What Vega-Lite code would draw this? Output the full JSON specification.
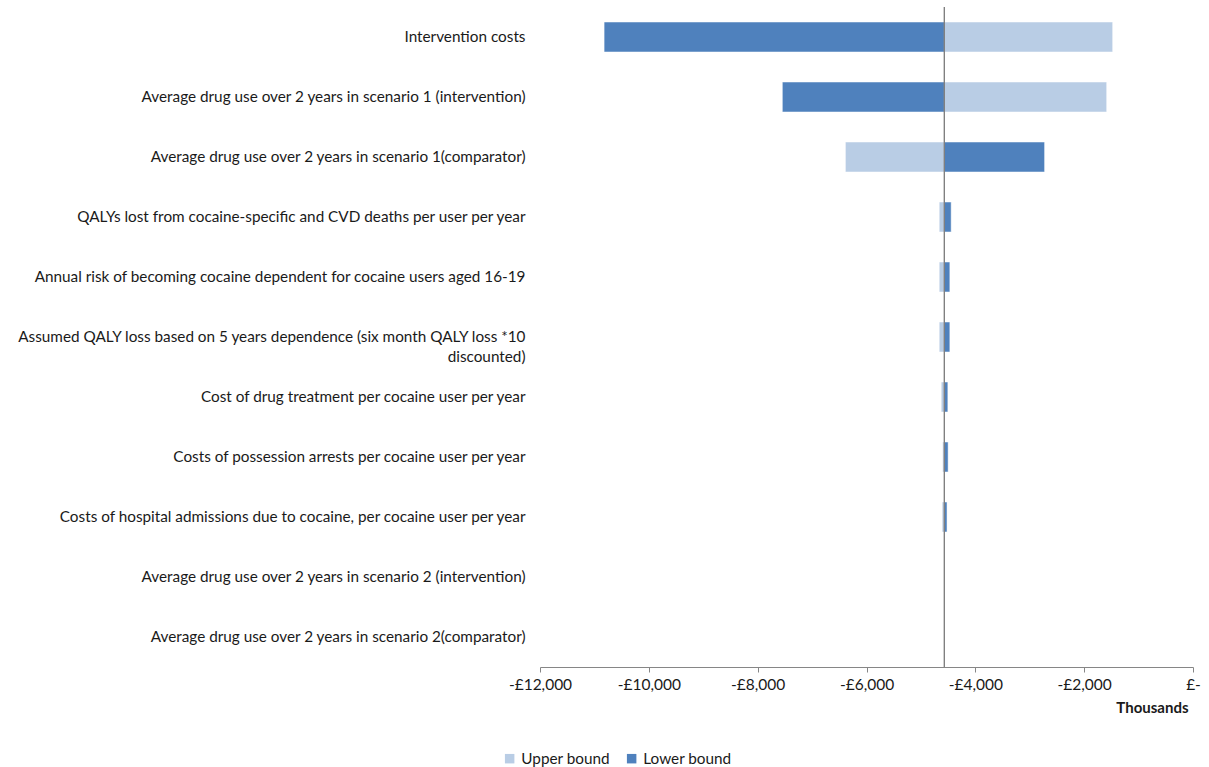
{
  "$schema": "https://vega.github.io/schema/vega-lite/v6.json",
  "autosize": {"type": "none"},
  "width": 653,
  "height": 660,
  "padding": {"left": 540, "top": 7, "right": 16, "bottom": 100},
  "background": "white",
  "config": {
    "view": {"stroke": null},
    "font": "Lato",
    "axis": {"labelFont": "Lato", "titleFont": "Lato", "labelColor": "#1a1a1a", "titleColor": "#1a1a1a"},
    "legend": {"labelFont": "Lato", "labelColor": "#1a1a1a"}
  },
  "data": {
    "values": [
      {"variable": "Intervention costs", "bound": "Lower bound", "value": -10822},
      {"variable": "Intervention costs", "bound": "Upper bound", "value": -1476},
      {"variable": "Average drug use over 2 years in scenario 1 (intervention)", "bound": "Lower bound", "value": -7547},
      {"variable": "Average drug use over 2 years in scenario 1 (intervention)", "bound": "Upper bound", "value": -1586},
      {"variable": "Average drug use over 2 years in scenario 1(comparator)", "bound": "Upper bound", "value": -6388},
      {"variable": "Average drug use over 2 years in scenario 1(comparator)", "bound": "Lower bound", "value": -2727},
      {"variable": "QALYs lost from cocaine-specific and CVD deaths per user per year", "bound": "Upper bound", "value": -4664},
      {"variable": "QALYs lost from cocaine-specific and CVD deaths per user per year", "bound": "Lower bound", "value": -4444},
      {"variable": "Annual risk of becoming cocaine dependent for cocaine users aged 16-19", "bound": "Upper bound", "value": -4664},
      {"variable": "Annual risk of becoming cocaine dependent for cocaine users aged 16-19", "bound": "Lower bound", "value": -4468},
      {"variable": "Assumed QALY loss based on 5 years dependence (six month QALY loss *10|discounted)", "bound": "Upper bound", "value": -4664},
      {"variable": "Assumed QALY loss based on 5 years dependence (six month QALY loss *10|discounted)", "bound": "Lower bound", "value": -4468},
      {"variable": "Cost of drug treatment per cocaine user per year", "bound": "Upper bound", "value": -4627},
      {"variable": "Cost of drug treatment per cocaine user per year", "bound": "Lower bound", "value": -4505},
      {"variable": "Costs of possession arrests per cocaine user per year", "bound": "Upper bound", "value": -4600},
      {"variable": "Costs of possession arrests per cocaine user per year", "bound": "Lower bound", "value": -4500},
      {"variable": "Costs of hospital admissions due to cocaine, per cocaine user per year", "bound": "Upper bound", "value": -4610},
      {"variable": "Costs of hospital admissions due to cocaine, per cocaine user per year", "bound": "Lower bound", "value": -4520}
    ]
  },
  "layer": [
    {
      "mark": {"type": "bar", "stroke": "white", "strokeWidth": 0.5},
      "encoding": {
        "y": {
          "field": "variable",
          "type": "nominal",
          "scale": {
            "domain": [
              "Intervention costs",
              "Average drug use over 2 years in scenario 1 (intervention)",
              "Average drug use over 2 years in scenario 1(comparator)",
              "QALYs lost from cocaine-specific and CVD deaths per user per year",
              "Annual risk of becoming cocaine dependent for cocaine users aged 16-19",
              "Assumed QALY loss based on 5 years dependence (six month QALY loss *10|discounted)",
              "Cost of drug treatment per cocaine user per year",
              "Costs of possession arrests per cocaine user per year",
              "Costs of hospital admissions due to cocaine, per cocaine user per year",
              "Average drug use over 2 years in scenario 2 (intervention)",
              "Average drug use over 2 years  in scenario 2(comparator)"
            ],
            "paddingInner": 0.5,
            "paddingOuter": 0.25
          },
          "axis": {
            "title": null,
            "domain": false,
            "ticks": false,
            "labelPadding": 15,
            "labelLimit": 700,
            "labelFontSize": 15.3,
            "labelLineHeight": 20,
            "labelExpr": "split(datum.label, '|')"
          }
        },
        "x": {
          "field": "value",
          "type": "quantitative",
          "scale": {"domain": [-12000, 0], "nice": false, "zero": false},
          "axis": {
            "title": "Thousands",
            "titleAnchor": "end",
            "titleFontWeight": "bold",
            "titleFontSize": 15,
            "titlePadding": 8,
            "titleX": 648,
            "values": [-12000, -10000, -8000, -6000, -4000, -2000, 0],
            "labelExpr": "datum.value == 0 ? '£-' : '-£' + format(abs(datum.value), ',')",
            "labelFontSize": 15.5,
            "labelPadding": 5,
            "tickSize": 5,
            "tickColor": "#868686",
            "domainColor": "#868686",
            "grid": false,
            "labelFlush": false
          }
        },
        "x2": {"datum": -4567},
        "color": {
          "field": "bound",
          "type": "nominal",
          "scale": {"domain": ["Upper bound", "Lower bound"], "range": ["#B9CDE5", "#4F81BD"]},
          "legend": {
            "title": null,
            "orient": "none",
            "direction": "horizontal",
            "legendX": -38,
            "legendY": 744,
            "symbolType": "square",
            "symbolSize": 90,
            "symbolStrokeWidth": 0,
            "labelFontSize": 15.3,
            "labelOffset": 4,
            "columnPadding": 14
          }
        }
      }
    },
    {
      "mark": {"type": "rule", "color": "#808080", "strokeWidth": 1},
      "encoding": {"x": {"datum": -4567}}
    }
  ]
}
